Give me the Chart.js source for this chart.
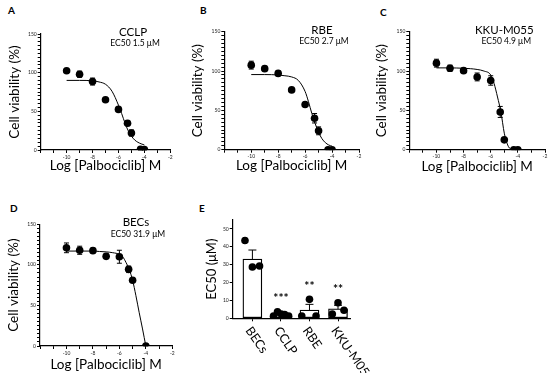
<!DOCTYPE html>
<html>
<head>
<meta charset="utf-8">
<script src="https://cdn.jsdelivr.net/npm/chart.js@4.4.1/dist/chart.umd.min.js"></script>
<style>
  body { margin: 0; background: #fff; }
  #fig { position: relative; width: 550px; height: 373px; overflow: hidden; }
  #fig canvas { position: absolute; }
  .tag { position: absolute; font: bold 10px Lato, sans-serif; line-height: 1; color: #000; }
</style>
</head>
<body>
<div id="fig">
  <div class="tag" style="left:8px;top:5px">A</div>
  <div class="tag" style="left:200px;top:5px">B</div>
  <div class="tag" style="left:380px;top:7px">C</div>
  <div class="tag" style="left:10px;top:203px">D</div>
  <div class="tag" style="left:199px;top:203px">E</div>
  <canvas id="chartA" width="185" height="180" style="left:0;top:0"></canvas>
  <canvas id="chartB" width="185" height="180" style="left:180px;top:0"></canvas>
  <canvas id="chartC" width="185" height="180" style="left:365px;top:0"></canvas>
  <canvas id="chartD" width="185" height="188" style="left:0;top:185px"></canvas>
  <canvas id="chartE" width="200" height="188" style="left:180px;top:185px"></canvas>
</div>
<script>
// log10 of the Palbociclib concentrations (M)
const doseLog = [-10, -9, -8, -7, -6, -5.3, -5, -4.3, -4];
const becDoseLog = [-10, -9, -8, -7, -6, -5.3, -5, -4];

// cell viability (%), mean and SEM
const cclpMean = [102.5, 98, 88.5, 65, 52.5, 34.5, 22, 1, 0.5];
const cclpSem = [2, 4, 4.5, 2, 2.5, 3, 4, 1, 1];
const rbeMean = [107.5, 103, 97, 76, 57.5, 40, 24, 0, 0];
const rbeSem = [5, 3, 3, 2, 2, 6, 5, 1, 1];
const kkuMean = [110, 103.5, 100.5, 92.5, 88, 48, 12.5, 0, 0];
const kkuSem = [5, 4, 3, 5, 6, 7, 2, 1, 1];
const becMean = [121, 118, 117.5, 110.5, 110, 94.5, 81, 0];
const becSem = [6, 5, 3, 3, 8, 4, 2, 1];

// fitted curves
const fitDoseLog = [-10, -9, -8, -7.5, -7, -6.5, -6, -5.75, -5.5, -5.25, -5, -4.75, -4.5, -4.25, -4];
const cclpFit = [90, 90, 89.5, 88, 85, 76, 58, 47, 35, 25, 18, 13, 10, 8, 6.5];
const rbeFit = [95.5, 95.5, 95, 94, 92.5, 88, 74, 61, 46, 33, 22, 14, 9, 6, 4.5];
const kkuFit = [104, 104, 103.5, 103, 102, 100, 95, 84, 67, 48, 21, 6, 0.5, 0, 0];
const becFit = [117, 117, 117, 116.5, 116, 115, 113, 110, 103, 94, 81, 62, 41, 21, 0];

// panel E: EC50 (uM)
const cellLines = ["BECs", "CCLP", "RBE", "KKU-M055"];
const ec50Mean = [33.2, 2.1, 4.6, 5.3];
const ec50Sem = [5, 0.6, 3.2, 2];
const ec50Dots = [[43.5, 28.7, 29.3], [1.2, 3.6, 2.4, 2.1, 1.2], [1.3, 10.6, 1.3], [2.4, 8.7, 4.5]];
const dotJitter = [[-0.26, 0, 0.25], [-0.26, -0.12, 0.01, 0.13, 0.27], [-0.27, 0, 0.23], [-0.2, 0, 0.21]];
const stars = ["", "***", "**", "**"];
const starLevel = [0, 11.5, 18, 16.2];

const FONT = "Lato, 'Open Sans', sans-serif";

// error bars from dataset.sem
const errorBars = {
  id: "errorBars",
  beforeDatasetsDraw(chart, args, opts) {
    const ctx = chart.ctx;
    const yScale = chart.scales.y;
    chart.data.datasets.forEach((ds, i) => {
      if (!ds.sem) return;
      const meta = chart.getDatasetMeta(i);
      ctx.save();
      ctx.strokeStyle = "#000";
      ctx.lineWidth = 1;
      meta.data.forEach((pt, j) => {
        const v = ds.data[j].y;
        const top = yScale.getPixelForValue(v + ds.sem[j]);
        const bot = yScale.getPixelForValue(Math.max(0, v - ds.sem[j]));
        const w = opts.cap / 2;
        ctx.beginPath();
        ctx.moveTo(pt.x, top);
        ctx.lineTo(pt.x, bot);
        ctx.moveTo(pt.x - w, top);
        ctx.lineTo(pt.x + w, top);
        ctx.moveTo(pt.x - w, bot);
        ctx.lineTo(pt.x + w, bot);
        ctx.stroke();
      });
      ctx.restore();
    });
  }
};

// free text placed at data coordinates
function notesPlugin(items) {
  return {
    id: "notes",
    afterDraw(chart) {
      const { ctx, scales } = chart;
      items.forEach((n) => {
        ctx.save();
        ctx.font = n.font;
        ctx.fillStyle = "#000";
        ctx.textAlign = "center";
        ctx.textBaseline = "middle";
        ctx.fillText(n.text, scales.x.getPixelForValue(n.x), scales.y.getPixelForValue(n.y));
        ctx.restore();
      });
    }
  };
}

function toPoints(xs, ys) {
  return ys.map((y, i) => ({ x: xs[i], y: y }));
}

function doseChart(id, lay, doses, mean, sem, fit, name, ec50) {
  const ctx = document.getElementById(id).getContext("2d");
  return new Chart(ctx, {
    type: "scatter",
    data: {
      datasets: [
        {
          data: toPoints(doses, mean),
          sem: sem,
          pointRadius: 3.8,
          pointHoverRadius: 3.8,
          backgroundColor: "#000",
          borderColor: "#000",
          borderWidth: 0,
        },
        {
          data: toPoints(fitDoseLog, fit),
          showLine: true,
          borderColor: "#000",
          borderWidth: 1,
          pointRadius: 0,
          cubicInterpolationMode: "monotone",
          fill: false,
        },
      ],
    },
    options: {
      responsive: false,
      animation: false,
      layout: { padding: { top: lay.top, right: lay.right, left: 0, bottom: 0 } },
      plugins: { legend: { display: false }, tooltip: { enabled: false }, errorBars: { cap: 5 } },
      scales: {
        x: {
          type: "linear",
          min: -12,
          max: -2,
          afterFit: (s) => { s.height = lay.xh; },
          border: { color: "#000", width: 1.2 },
          grid: { drawOnChartArea: false, tickLength: 3, tickColor: "#000" },
          ticks: {
            stepSize: 1,
            autoSkip: false,
            maxRotation: 0,
            padding: 1,
            color: "#222",
            font: { size: 5, family: FONT },
            callback: (v) => (v % 2 === 0 && v > -12 ? v : ""),
          },
          title: {
            display: true,
            text: "Log [Palbociclib] M",
            color: "#000",
            font: { size: 13.5, family: FONT },
            padding: { top: 0, bottom: lay.xt },
          },
        },
        y: {
          min: 0,
          max: 150,
          afterFit: (s) => { s.width = lay.yw; },
          border: { color: "#000", width: 1.2 },
          grid: { drawOnChartArea: false, tickLength: 3, tickColor: "#000" },
          ticks: {
            stepSize: 5,
            autoSkip: false,
            padding: 1,
            color: "#222",
            font: { size: 5, family: FONT },
            callback: (v) => (v % 50 === 0 ? v : ""),
          },
          title: {
            display: true,
            text: "Cell viability (%)",
            color: "#000",
            font: { size: 13.5, family: FONT },
            padding: { top: lay.yt, bottom: 0 },
          },
        },
      },
    },
    plugins: [
      errorBars,
      notesPlugin([
        { text: name, x: lay.nx, y: 152, font: "11.5px " + FONT },
        { text: ec50, x: lay.nx + 0.15, y: 138, font: "8.5px " + FONT },
      ]),
    ],
  });
}

doseChart("chartA", { top: 34, right: 14.7, xh: 30, yw: 40.7, yt: 6.7, xt: 6.2, nx: -4.87 },
  doseLog, cclpMean, cclpSem, cclpFit, "CCLP", "EC50 1.5 μM");
doseChart("chartB", { top: 31.7, right: 6, xh: 30.3, yw: 44.3, yt: 9.7, xt: 6.2, nx: -4.75 },
  doseLog, rbeMean, rbeSem, rbeFit, "RBE", "EC50 2.7 μM");
doseChart("chartC", { top: 31.7, right: 5, xh: 30.3, yw: 44.3, yt: 8.7, xt: 5.2, nx: -5.0 },
  doseLog, kkuMean, kkuSem, kkuFit, "KKU-M055", "EC50 4.9 μM");
doseChart("chartD", { top: 39.3, right: 12.7, xh: 27, yw: 40, yt: 5.4, xt: 0, nx: -4.75 },
  becDoseLog, becMean, becSem, becFit, "BECs", "EC50 31.9 μM");

// rotated category names under panel E
const slantedLabels = {
  id: "slantedLabels",
  afterDraw(chart) {
    const { ctx, scales } = chart;
    cellLines.forEach((name, i) => {
      ctx.save();
      ctx.font = "12.5px " + FONT;
      ctx.fillStyle = "#000";
      ctx.textAlign = "left";
      ctx.textBaseline = "middle";
      ctx.translate(scales.x.getPixelForValue(i) - 4, scales.y.bottom + 10);
      ctx.rotate((55 * Math.PI) / 180);
      ctx.fillText(name, 0, 0);
      ctx.restore();
    });
  }
};

const dotPoints = [];
ec50Dots.forEach((vals, i) => {
  vals.forEach((v, j) => dotPoints.push({ x: i + dotJitter[i][j], y: v }));
});

new Chart(document.getElementById("chartE").getContext("2d"), {
  type: "bar",
  data: {
    datasets: [
      {
        type: "scatter",
        data: dotPoints,
        order: 0,
        pointRadius: 3.8,
        pointHoverRadius: 3.8,
        backgroundColor: "#000",
        borderWidth: 0,
      },
      {
        type: "bar",
        data: toPoints([0, 1, 2, 3], ec50Mean),
        sem: ec50Sem,
        order: 1,
        backgroundColor: "#fff",
        borderColor: "#000",
        borderWidth: 1.3,
        borderSkipped: false,
        barThickness: 19,
      },
    ],
  },
  options: {
    responsive: false,
    animation: false,
    layout: { padding: { top: 35, right: 30, left: 0, bottom: 0 } },
    plugins: { legend: { display: false }, tooltip: { enabled: false }, errorBars: { cap: 8 } },
    scales: {
      x: {
        type: "linear",
        min: -0.69,
        max: 3.42,
        offset: false,
        afterFit: (s) => { s.height = 54.7; },
        afterBuildTicks: (s) => { s.ticks = [0, 1, 2, 3].map((v) => ({ value: v })); },
        border: { color: "#000", width: 1.2 },
        grid: { drawOnChartArea: false, offset: false, tickLength: 3, tickColor: "#000" },
        ticks: { display: false },
      },
      y: {
        min: 0,
        max: 55,
        afterFit: (s) => { s.width = 52.7; },
        afterBuildTicks: (s) => { s.ticks = [0, 10, 20, 30, 40, 50].map((v) => ({ value: v })); },
        border: { color: "#000", width: 1.2 },
        grid: { drawOnChartArea: false, tickLength: 3, tickColor: "#000" },
        ticks: { padding: 1, color: "#222", font: { size: 5, family: FONT } },
        title: {
          display: true,
          text: "EC50 (μM)",
          color: "#000",
          font: { size: 13, family: FONT },
          padding: { top: 23.9, bottom: 0 },
        },
      },
    },
  },
  plugins: [
    errorBars,
    slantedLabels,
    notesPlugin(stars.map((s, i) => ({ text: s, x: i, y: starLevel[i], font: "bold 12px " + FONT }))),
  ],
});
</script>
</body>
</html>
